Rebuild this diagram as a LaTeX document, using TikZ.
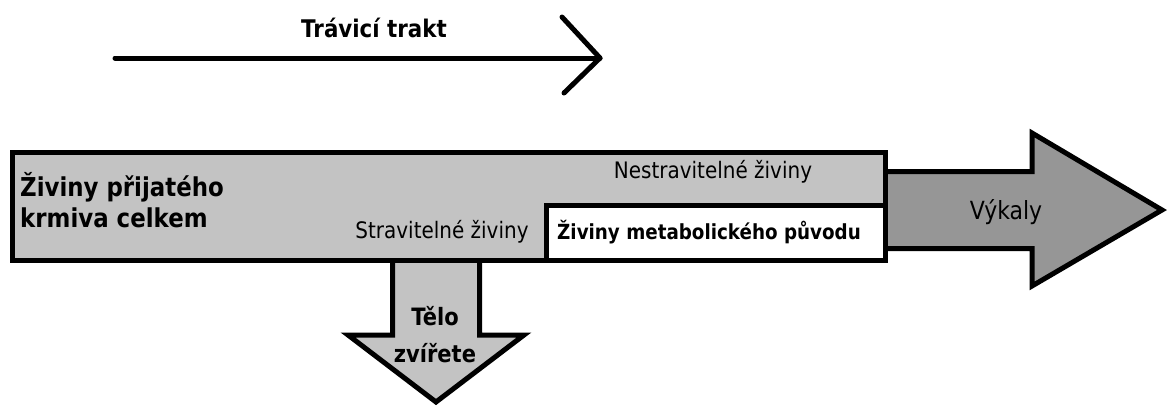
\documentclass[tikz,border=0pt]{standalone}
\usepackage{fontspec}
\setmainfont[FakeStretch=0.88]{DejaVu Sans}
\definecolor{lightgrey}{HTML}{C3C3C3}
\definecolor{darkgrey}{HTML}{969696}
\begin{document}
\begin{tikzpicture}[x=1pt,y=-1pt]
    \tikzstyle{every node}+=[inner sep=0pt]
    \tikzstyle{block}=[draw=black,line width=5pt,fill=lightgrey]
    \tikzstyle{bigtext}=[font=\fontsize{26}{30}\selectfont\bfseries]
    \tikzstyle{smalltext}=[font=\fontsize{22.7}{26}\selectfont]
    \useasboundingbox (0,0) rectangle (1168,407);
    \coordinate (tractstart) at (115,58);
    \coordinate (tractend) at (600,58);
    \draw [black,line width=5pt,line cap=round] (tractstart) -- (tractend);
    \draw [black,line width=5pt,line cap=round,line join=round] ([shift={(-38,-41)}]tractend) -- (tractend) -- ([shift={(-36,35)}]tractend);
    \node [font=\fontsize{24.3}{28}\selectfont\bfseries] (tract) at (374,28) {Trávicí trakt};
    \draw [block,fill=darkgrey] (880,171.5) -- (1032,171.5) -- (1032,133) -- (1162,210) -- (1032,286) -- (1032,248.5) -- (880,248.5) -- cycle;
    \draw [block] (392.5,250) -- (392.5,335) -- (348,335) -- (436,402) -- (524,335) -- (479.5,335) -- (479.5,250);
    \node [block,minimum width=873pt,minimum height=108pt] (total) at (449,206.5) {};
    \node [block,fill=white,minimum width=339pt,minimum height=55pt] (metab) at (716,233) {};
    \node [bigtext,anchor=base west] (fed) at (20,196) {Živiny přijatého};
    \node [bigtext,anchor=base west] (fedb) at (20,227) {krmiva celkem};
    \node [smalltext] (digest) at (442,232) {Stravitelné živiny};
    \node [smalltext] (indigest) at (713,172) {Nestravitelné živiny};
    \node [font=\fontsize{20.8}{24}\selectfont\bfseries] (metabtext) at (709,232) {Živiny metabolického původu};
    \node [font=\fontsize{25}{29}\selectfont] (feces) at (1006,212) {Výkaly};
    \node [font=\fontsize{23.9}{28}\selectfont\bfseries] (body) at (435,316) {Tělo};
    \node [font=\fontsize{23.9}{28}\selectfont\bfseries] (bodyb) at (435,353) {zvířete};
\end{tikzpicture}
\end{document}
